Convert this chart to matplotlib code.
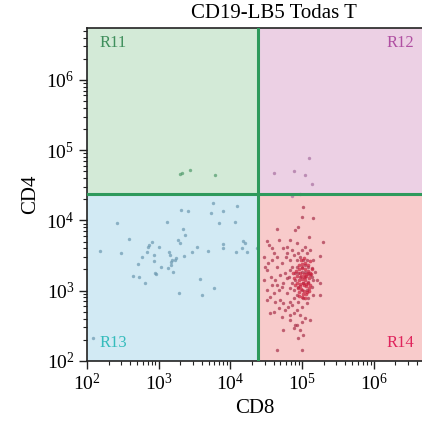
import matplotlib
matplotlib.use("Agg")
import matplotlib.pyplot as plt
from matplotlib.ticker import LogLocator, NullFormatter

plt.rcParams["font.family"] = ["Liberation Serif", "DejaVu Serif"]
plt.rcParams["mathtext.fontset"] = "stix"

TITLE = "CD19-LB5 Todas T"
X_GATE = 2.45e4
Y_GATE = 2.35e4
X_LIM = (1e2, 4.7e6)
Y_LIM = (1e2, 5.5e6)

# (CD8, CD4) events per quadrant
r11_points = [(2.0e3, 4.5e4), (2.1e3, 4.7e4), (2.75e3, 5.2e4), (6.1e3, 4.4e4)]

r12_points = [(4.0e4, 4.7e4), (7.6e4, 5.0e4), (1.1e5, 4.4e4), (1.26e5, 7.8e4),
              (1.36e5, 3.3e4), (7.2e4, 2.2e4), (9.4e4, 2.4e4)]

r13_points = [
    (120, 210), (150, 3700), (260, 9300), (300, 3400), (380, 5400), (440, 1600),
    (540, 1550), (650, 1300), (510, 2400), (590, 3000), (690, 3500), (720, 4200),
    (740, 4400), (800, 5000), (860, 3200), (860, 2600), (890, 1800), (920, 1700),
    (1000, 4200), (1080, 2150), (1300, 9400), (1330, 2100), (1400, 3500),
    (1440, 3200), (1470, 2550), (1500, 2300), (1550, 2700), (1570, 1850),
    (1690, 2750), (1740, 2900), (1880, 5300), (1980, 4700), (2030, 14000),
    (2160, 7600), (2250, 3100), (2330, 6200), (2600, 13700), (1930, 920),
    (2950, 3550), (3400, 4200), (3770, 1480), (4000, 870), (4800, 3700),
    (5400, 12600), (5800, 17900), (5900, 1100), (7000, 9300), (8000, 13600),
    (8000, 4600), (8000, 4000), (11600, 9600), (12000, 3600), (12200, 16000),
    (14400, 4000), (15000, 5100), (16000, 4800), (17200, 3500), (23300, 4000),
]

r14_points = [
    (4.4e4, 7450), (4.7e4, 5250), (3.2e4, 5140), (3.5e4, 4460), (3.8e4, 4000),
    (5.5e4, 4000), (6.2e4, 4220), (8.0e4, 7300), (8.7e4, 8100), (9.9e4, 11300),
    (1.04e5, 15300), (1.44e5, 10700), (1.26e5, 5730), (1.94e5, 4970), (1.8e5, 3110),
    (1.29e5, 3790), (1.16e5, 3400), (9.4e4, 3040), (8.4e4, 2730), (7.6e4, 3220),
    (6.8e4, 2730), (5.9e4, 3040), (5.2e4, 2450), (4.4e4, 2190), (3.8e4, 2730),
    (3.4e4, 2450), (3.2e4, 1970), (3.7e4, 1580), (4.2e4, 1420), (4.9e4, 1670),
    (5.8e4, 1760), (6.1e4, 1500), (6.8e4, 1970), (7.2e4, 2190), (8.4e4, 2190),
    (9.9e4, 2190), (1.10e5, 2320), (1.22e5, 2190), (1.36e5, 2080), (1.52e5, 1860),
    (1.29e5, 1670), (1.10e5, 1580), (9.4e4, 1580), (8.0e4, 1420), (7.2e4, 1270),
    (6.8e4, 1080), (7.6e4, 1020), (8.9e4, 1140), (1.04e5, 1270), (1.22e5, 1340),
    (1.44e5, 1420), (1.60e5, 1420), (1.78e5, 1270), (1.36e5, 1140), (1.16e5, 1020),
    (9.9e4, 1020), (8.4e4, 867), (7.6e4, 778), (6.8e4, 698), (6.1e4, 916),
    (5.2e4, 1140), (4.7e4, 1020), (4.0e4, 916), (3.6e4, 822), (3.2e4, 736),
    (4.2e4, 698), (4.9e4, 736), (5.5e4, 661), (6.4e4, 593), (7.2e4, 625),
    (8.9e4, 698), (1.04e5, 778), (1.22e5, 778), (1.44e5, 867), (1.78e5, 867),
    (1.16e5, 661), (9.9e4, 593), (8.4e4, 531), (7.6e4, 476), (6.8e4, 451),
    (9.4e4, 451), (1.10e5, 404), (1.29e5, 383), (9.9e4, 362), (8.4e4, 325),
    (7.6e4, 291), (9.4e4, 276), (1.04e5, 234), (8.9e4, 210), (5.5e4, 276),
    (4.4e4, 143), (9.9e4, 143), (8.0e4, 325), (6.8e4, 383), (5.2e4, 427),
    (4.0e4, 502), (5.8e4, 531), (4.7e4, 561), (3.6e4, 476), (3.2e4, 1020),
    (3.8e4, 1200), (4.4e4, 1200), (5.5e4, 1270), (6.6e4, 1580), (8.0e4, 1760),
    (8.9e4, 1760), (9.9e4, 1860), (1.10e5, 1860), (1.22e5, 1760), (1.36e5, 1580),
    (1.04e5, 2730), (1.16e5, 2730), (1.44e5, 2730), (8.9e4, 3400), (9.9e4, 3790),
    (1.10e5, 4220), (8.4e4, 4710), (6.8e4, 5250), (7.2e4, 3790), (6.1e4, 3400),
    (4.4e4, 3040), (4.0e4, 3400), (2.9e4, 3040), (3.0e4, 2190), (2.9e4, 1420),
]

# dense core of the R14 population
r14_core = [
    (9.0e4, 2000), (1.0e5, 2100), (1.1e5, 2000), (1.2e5, 1900), (9.5e4, 1800),
    (1.05e5, 1700), (1.15e5, 1600), (1.25e5, 1500), (8.5e4, 1600), (9.0e4, 1400),
    (1.0e5, 1450), (1.1e5, 1400), (1.2e5, 1300), (9.5e4, 1250), (1.05e5, 1200),
    (1.15e5, 1150), (8.8e4, 1100), (9.8e4, 1050), (1.08e5, 1000), (1.18e5, 950),
    (9.2e4, 950), (1.02e5, 900), (1.12e5, 880), (8.6e4, 1300), (1.3e5, 1200),
    (1.28e5, 1800), (1.0e5, 2400), (1.1e5, 2500), (9.0e4, 2300), (1.2e5, 2300),
    (9.7e4, 1600), (1.07e5, 1550), (1.17e5, 1750), (8.3e4, 1900), (1.03e5, 1300),
    (1.13e5, 1250), (9.3e4, 1150), (1.23e5, 1100), (1.0e5, 800), (1.1e5, 780),
    (9.0e4, 850), (1.25e5, 1000), (8.0e4, 1200), (7.8e4, 1500), (7.5e4, 1800),
    (1.35e5, 1700), (1.38e5, 2000), (9.6e4, 2700), (1.06e5, 2900), (1.3e5, 2600),
]

quadrants = {
    "R11": dict(fill="#d3ead7", dot="#4f9a6a", label="#3f8f5c", pos=(0.037, 0.955), ha="left"),
    "R12": dict(fill="#ecd0e4", dot="#a870a0", label="#b04fa2", pos=(0.978, 0.955), ha="right"),
    "R13": dict(fill="#d2eaf4", dot="#6b98b0", label="#35bcbc", pos=(0.037, 0.054), ha="left"),
    "R14": dict(fill="#f8cbcb", dot="#a8304a", label="#e0245c", pos=(0.978, 0.054), ha="right"),
}

fig = plt.figure(figsize=(4.22, 4.23), dpi=100)
ax = fig.add_axes([0.206, 0.147, 0.794, 0.787])
ax.set_xscale("log")
ax.set_yscale("log")
ax.set_xlim(*X_LIM)
ax.set_ylim(*Y_LIM)

# quadrant backgrounds
ax.fill_between([X_LIM[0], X_GATE], Y_GATE, Y_LIM[1], color=quadrants["R11"]["fill"], lw=0, zorder=0)
ax.fill_between([X_GATE, X_LIM[1]], Y_GATE, Y_LIM[1], color=quadrants["R12"]["fill"], lw=0, zorder=0)
ax.fill_between([X_LIM[0], X_GATE], Y_LIM[0], Y_GATE, color=quadrants["R13"]["fill"], lw=0, zorder=0)
ax.fill_between([X_GATE, X_LIM[1]], Y_LIM[0], Y_GATE, color=quadrants["R14"]["fill"], lw=0, zorder=0)

for name, pts in [("R11", r11_points), ("R12", r12_points), ("R13", r13_points), ("R14", r14_points)]:
    xs, ys = zip(*pts)
    ax.scatter(xs, ys, s=6, color=quadrants[name]["dot"], alpha=0.7, lw=0, zorder=2)
xs, ys = zip(*r14_core)
ax.scatter(xs, ys, s=7, color="#c8203c", alpha=0.7, lw=0, zorder=3)

ax.axvline(X_GATE, color="#2e9a5c", lw=2.2, zorder=4)
ax.axhline(Y_GATE, color="#2e9a5c", lw=2.2, zorder=4)

for name, q in quadrants.items():
    ax.text(q["pos"][0], q["pos"][1], name, transform=ax.transAxes, ha=q["ha"], va="center",
            fontsize=12, color=q["label"], zorder=5)

ax.xaxis.set_major_locator(LogLocator(base=10, numticks=10))
ax.yaxis.set_major_locator(LogLocator(base=10, numticks=10))
ax.xaxis.set_minor_locator(LogLocator(base=10, subs=range(2, 10), numticks=20))
ax.yaxis.set_minor_locator(LogLocator(base=10, subs=range(2, 10), numticks=20))
ax.xaxis.set_minor_formatter(NullFormatter())
ax.yaxis.set_minor_formatter(NullFormatter())
ax.tick_params(which="major", length=6, width=1, labelsize=14, pad=3, color="#222222")
ax.tick_params(which="minor", length=3, width=0.8, color="#222222")

for side in ["left", "bottom", "top"]:
    ax.spines[side].set_color("#222222")
    ax.spines[side].set_linewidth(1.2)
ax.spines["right"].set_visible(False)

ax.set_xlabel("CD8", fontsize=15, labelpad=3)
ax.set_ylabel("CD4", fontsize=15, labelpad=4)
fig.text(0.648, 0.967, TITLE, ha="center", va="center", fontsize=15)

fig.savefig("out.png", dpi=100)
plt.close(fig)
